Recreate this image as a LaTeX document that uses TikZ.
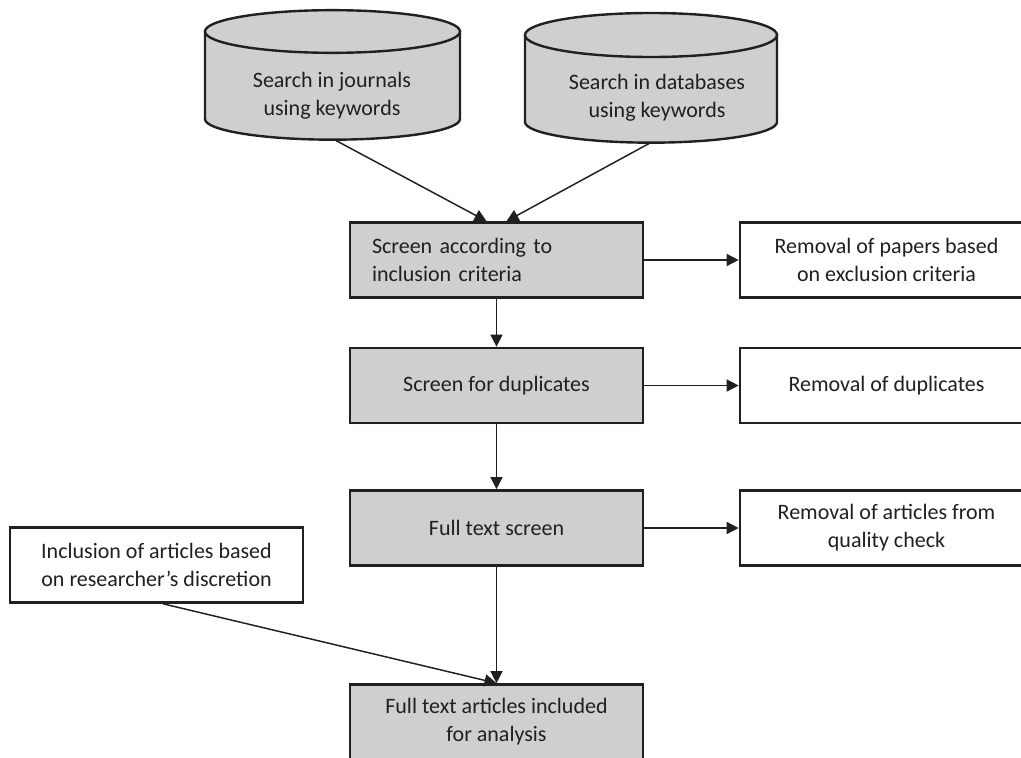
\documentclass[tikz,border=0pt]{standalone}
\usepackage{fontspec}
\setmainfont{Carlito}
\usetikzlibrary{arrows.meta}
\definecolor{boxgray}{RGB}{208,206,208}
\definecolor{inkc}{RGB}{32,32,32}
\begin{document}
\begin{tikzpicture}[x=0.75pt,y=-0.75pt,
  every node/.style={font=\fontsize{16.5}{21}\selectfont, text=inkc},
  stage/.style={draw=inkc, line width=2pt, fill=boxgray, minimum width=219.75pt,
    minimum height=56.25pt, inner sep=0pt, align=center},
  stageleft/.style={stage, align=left, text width=186.75pt, inner xsep=16.5pt},
  outcome/.style={stage, fill=white},
  label/.style={align=center, inner sep=0pt},
  cyl/.style={draw=inkc, line width=1.8pt, fill=boxgray},
  link/.style={draw=inkc, line width=1.1pt, -{Triangle[length=9pt,width=9pt]}}]

\useasboundingbox (0,0) rectangle (1021,757);

% database cylinders
\path[cyl] (205,31.5) -- (205,119)
  arc[start angle=180, end angle=360, x radius=95.625pt, y radius=15.5pt]
  -- (460,31.5) -- cycle;
\path[cyl] (332.5,31.5) ellipse[x radius=95.625pt, y radius=16pt];
\node[label] (journals) at (332,96) {Search in journals\\using keywords};
\coordinate (jbot) at (335,140);

\path[cyl] (525,35) -- (525,122)
  arc[start angle=180, end angle=360, x radius=94.5pt, y radius=15.5pt]
  -- (777,35) -- cycle;
\path[cyl] (651,35) ellipse[x radius=94.5pt, y radius=16.5pt];
\node[label] (databases) at (657,97.5) {Search in databases\\using keywords};
\coordinate (dbot) at (650,143);

% screening stages
\node[stageleft] (screen) at (496.5,260) {Screen according to\\inclusion criteria};
\node[stage] (dup) at (496.5,385.5) {Screen for duplicates};
\node[stage] (fts) at (496.5,528) {Full text screen};
\node[stage] (final) at (496.5,722) {Full text articles included\\for analysis};

% removals and additions
\node[outcome] (excl) at (886.5,260) {Removal of papers based\\on exclusion criteria};
\node[outcome] (remdup) at (886.5,385.5) {Removal of duplicates};
\node[outcome] (remart) at (886.5,528) {Removal of articles from\\quality check};
\node[outcome] (incl) at (156.5,565) {Inclusion of articles based\\on researcher’s discretion};

% connectors
\draw[link] (jbot) -- ([xshift=-7.5pt]screen.north);
\draw[link] (dbot) -- ([xshift=7.5pt]screen.north);
\draw[link] (screen) -- (dup);
\draw[link] (dup) -- (fts);
\draw[link] (fts) -- (final);
\draw[link] ([xshift=5pt]incl.south) -- (final.north);
\draw[link] (screen.east) -- (excl.west);
\draw[link] (dup.east) -- (remdup.west);
\draw[link] (fts.east) -- (remart.west);
\end{tikzpicture}
\end{document}
